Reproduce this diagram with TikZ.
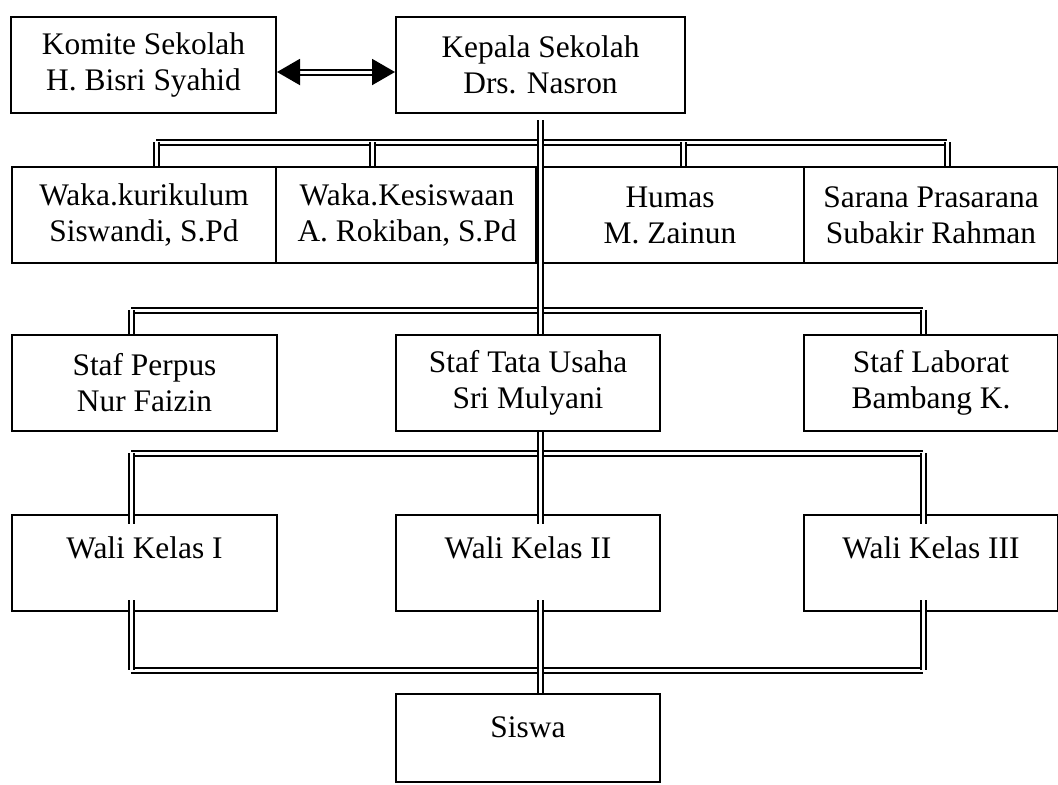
\documentclass[tikz,border=0pt]{standalone}
\usepackage{fontspec}
\setmainfont{Liberation Serif}
\usetikzlibrary{arrows.meta}
\tikzset{
  box/.style={draw,line width=1pt,anchor=north west,inner sep=0pt,align=center,minimum height=48pt,font=\fontsize{15.7}{18}\selectfont},
  topbox/.style={box,text height=10pt,text depth=#1},
  dbl/.style={double,line width=1pt,double distance=1.5pt},
  tip/.style={{Triangle[length=11.5pt,width=13pt]}-{Triangle[length=11.5pt,width=13pt]}}
}
\begin{document}
\begin{tikzpicture}[x=0.5pt,y=-0.5pt]
\useasboundingbox (0,0) rectangle (1058,784);
\node[box,minimum width=132.5pt] (komite) at (10,16) {Komite Sekolah\\H. Bisri Syahid};
\node[box,minimum width=144.5pt] (kepala) at (395,16) {Kepala Sekolah\\Drs. Nasron};
\node[box,minimum width=132pt] (kurikulum) at (11,166) {Waka.kurikulum\\Siswandi, S.Pd};
\node[box,minimum width=131pt] (kesiswaan) at (275,166) {Waka.Kesiswaan\\A. Rokiban, S.Pd};
\node[box,minimum width=134pt] (humas) at (535,166) {Humas\\M. Zainun};
\node[box,minimum width=127pt] (sarana) at (803,166) {Sarana Prasarana\\Subakir Rahman};
\node[box,minimum width=132.5pt] (perpus) at (11,334) {Staf Perpus\\Nur Faizin};
\node[box,minimum width=132pt] (tatausaha) at (395,334) {Staf Tata Usaha\\Sri Mulyani};
\node[box,minimum width=127pt] (laborat) at (803,334) {Staf Laborat\\Bambang K.};
\node[topbox=15pt,minimum width=132.5pt] (wali1) at (11,514) {Wali Kelas I};
\node[topbox=15pt,minimum width=132pt] (wali2) at (395,514) {Wali Kelas II};
\node[topbox=15pt,minimum width=127pt] (wali3) at (803,514) {Wali Kelas III};
\node[topbox=11pt,minimum width=132pt,minimum height=44pt] (siswa) at (395,693) {Siswa};
\draw[dbl,tip] ([yshift=-3.5pt]komite.east) -- ([yshift=-3.5pt]kepala.west);
\draw[dbl] (156,142) -- (947,142);
\foreach \x/\n in {156/kurikulum,372/kesiswaan,683/humas,947/sarana}{
  \coordinate (d) at (\x,142);
  \draw[dbl] (d) -- (d |- \n.north);
}
\draw[dbl] (131,310) -- (923,310);
\foreach \x/\n in {131/perpus,923/laborat}{
  \coordinate (d) at (\x,310);
  \draw[dbl] (d) -- (d |- \n.north);
}
\draw[dbl] (131,453) -- (923,453);
\draw[dbl] (131,670) -- (923,670);
\foreach \x/\n in {131/wali1,923/wali3}{
  \coordinate (d) at (\x,453);
  \coordinate (e) at (\x,670);
  \draw[dbl] (d) -- ([yshift=-5pt]d |- \n.north);
  \draw[dbl] ([yshift=6pt]e |- \n.south) -- (e);
}
\draw[dbl,shorten <=3pt] (kepala.south) -- (kepala.south |- tatausaha.north);
\draw[dbl] (kepala.south |- tatausaha.south) -- ([yshift=-5pt]kepala.south |- wali2.north);
\draw[dbl] ([yshift=6pt]kepala.south |- wali2.south) -- (kepala.south |- siswa.north);
\end{tikzpicture}
\end{document}
